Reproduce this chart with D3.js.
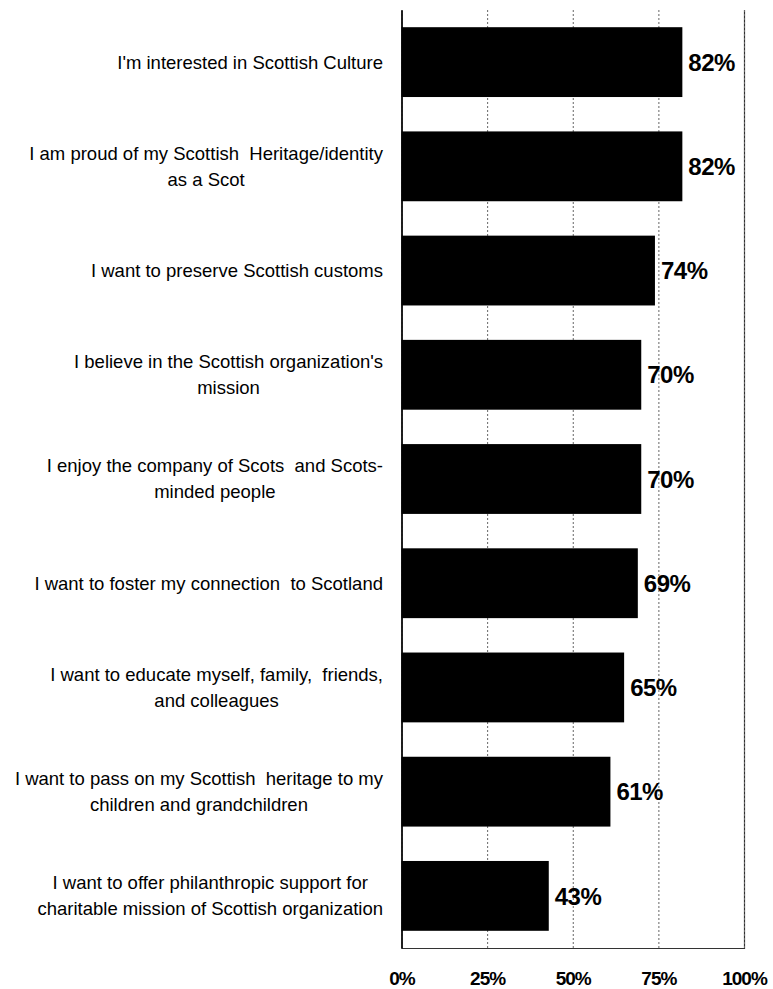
<!DOCTYPE html>
<html>
<head>
<meta charset="utf-8">
<script src="https://cdn.jsdelivr.net/npm/d3@7"></script>
<style>
  html, body { margin: 0; padding: 0; background: #fff; }
  svg { display: block; }
</style>
</head>
<body>
<svg id="chart" width="773" height="989"></svg>
<script>
// Reasons for joining, share of respondents
const categories = [
  ["I'm interested in Scottish Culture"],
  ["I am proud of my Scottish  Heritage/identity", "as a Scot"],
  ["I want to preserve Scottish customs"],
  ["I believe in the Scottish organization's", "mission"],
  ["I enjoy the company of Scots  and Scots-", "minded people"],
  ["I want to foster my connection  to Scotland"],
  ["I want to educate myself, family,  friends,", "and colleagues"],
  ["I want to pass on my Scottish  heritage to my", "children and grandchildren"],
  ["I want to offer philanthropic support for", "charitable mission of Scottish organization"]
];
const values = [82, 82, 74, 70, 70, 69, 65, 61, 43];
const tickValues = [0, 25, 50, 75, 100];
const tickLabels = ["0%", "25%", "50%", "75%", "100%"];

const svg = d3.select("#chart");
const plot = { left: 401.5, right: 744, top: 10, bottom: 948 };

const x = d3.scaleLinear().domain([0, 100]).range([plot.left, plot.right]);
const y = d3.scaleBand()
  .domain(d3.range(categories.length))
  .range([plot.top, plot.bottom])
  .paddingInner(0.33)
  .paddingOuter(0.165);

// vertical gridlines and percentage tick labels
const xAxis = d3.axisBottom(x)
  .tickValues(tickValues)
  .tickFormat((d, i) => tickLabels[i])
  .tickSize(-(plot.bottom - plot.top))
  .tickPadding(24);

const gx = svg.append("g")
  .attr("transform", `translate(0,${plot.bottom})`)
  .call(xAxis);
gx.select(".domain")
  .attr("stroke", "#333")
  .attr("stroke-width", 1.2);
gx.selectAll(".tick line")
  .attr("stroke", "#666")
  .attr("stroke-width", 1)
  .attr("stroke-dasharray", "2,2");
gx.selectAll(".tick text")
  .attr("fill", "#000")
  .style("font-family", "'Liberation Sans', Arial, sans-serif")
  .style("font-size", "19px")
  .style("font-weight", "bold")
  .style("letter-spacing", "-1px");

// bars
svg.append("g")
  .selectAll("rect")
  .data(values)
  .join("rect")
  .attr("x", x(0))
  .attr("y", (d, i) => y(i))
  .attr("width", d => x(d) - x(0))
  .attr("height", y.bandwidth())
  .attr("fill", "#000");

// value labels
svg.append("g")
  .selectAll("text")
  .data(values)
  .join("text")
  .attr("x", d => x(d) + 6)
  .attr("y", (d, i) => y(i) + y.bandwidth() / 2)
  .attr("dy", "0.36em")
  .style("font-family", "'Liberation Sans', Arial, sans-serif")
  .style("font-size", "24px")
  .style("font-weight", "bold")
  .style("letter-spacing", "-0.5px")
  .text(d => d + "%");

// category axis line
const yAxis = d3.axisLeft(y).tickSize(0).tickFormat("");
const gy = svg.append("g")
  .attr("transform", `translate(${plot.left},0)`)
  .call(yAxis);
gy.select(".domain")
  .attr("stroke", "#000")
  .attr("stroke-width", 1.5);

// category labels: lines centred on each other, block right-aligned to the axis
const labelRight = 383;
const lineGap = 26;
const labelFont = "'Liberation Sans', Arial, sans-serif";
const lab = svg.append("g")
  .style("font-family", labelFont)
  .style("font-size", "18.5px")
  .attr("fill", "#000");

categories.forEach((lines, i) => {
  const cy = y(i) + y.bandwidth() / 2;
  const g = lab.append("g");
  const texts = lines.map((t, k) =>
    g.append("text")
      .attr("y", cy + (k - (lines.length - 1) / 2) * lineGap)
      .attr("dy", "0.35em")
      .attr("text-anchor", "middle")
      .style("white-space", "pre")
      .text(t)
  );
  const w = d3.max(texts, t => t.node().getComputedTextLength());
  texts.forEach(t => t.attr("x", labelRight - w / 2));
});
</script>
</body>
</html>
